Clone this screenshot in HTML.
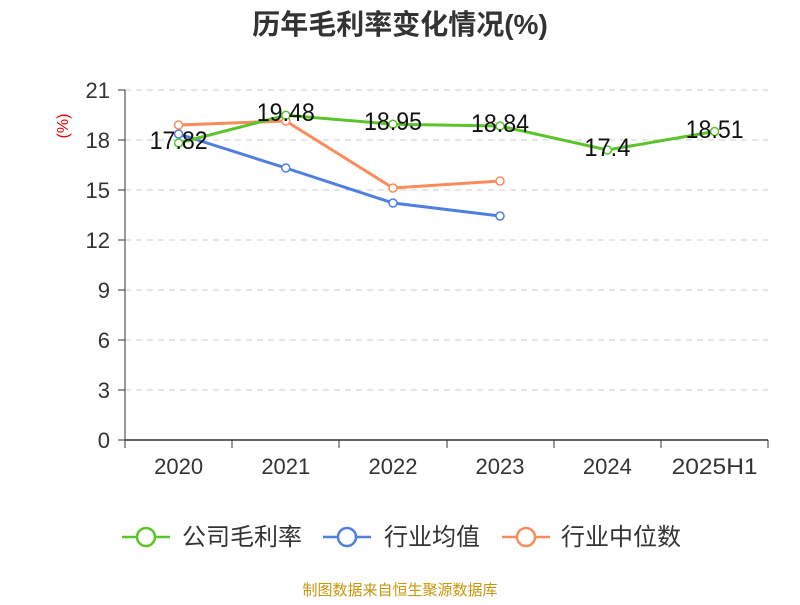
<!DOCTYPE html>
<html><head><meta charset="utf-8"><style>body{margin:0;background:#fff}</style></head><body>
<svg width="800" height="600" xmlns="http://www.w3.org/2000/svg" font-family="Liberation Sans, Noto Sans CJK SC, sans-serif">
<text x="400" y="34" text-anchor="middle" font-size="28" font-weight="bold" fill="#333">历年毛利率变化情况(%)</text>
<text x="68" y="126" text-anchor="middle" font-size="16" fill="#e00" transform="rotate(-90 68 126)">(%)</text>
<g stroke="#ccc" stroke-dasharray="6,5">
<line x1="125" x2="768" y1="90" y2="90"/><line x1="125" x2="768" y1="140" y2="140"/><line x1="125" x2="768" y1="190" y2="190"/><line x1="125" x2="768" y1="240" y2="240"/><line x1="125" x2="768" y1="290" y2="290"/><line x1="125" x2="768" y1="340" y2="340"/><line x1="125" x2="768" y1="390" y2="390"/>
</g>
<g stroke="#333"><line x1="125" x2="125" y1="90" y2="440"/><line x1="125" x2="768" y1="440" y2="440" stroke-width="1.5"/>
<line x1="118" x2="125" y1="90" y2="90"/><line x1="118" x2="125" y1="140" y2="140"/><line x1="118" x2="125" y1="190" y2="190"/><line x1="118" x2="125" y1="240" y2="240"/><line x1="118" x2="125" y1="290" y2="290"/><line x1="118" x2="125" y1="340" y2="340"/><line x1="118" x2="125" y1="390" y2="390"/><line x1="118" x2="125" y1="440" y2="440"/>
<line x1="125" x2="125" y1="440" y2="448"/><line x1="232" x2="232" y1="440" y2="448"/><line x1="339" x2="339" y1="440" y2="448"/><line x1="447" x2="447" y1="440" y2="448"/><line x1="554" x2="554" y1="440" y2="448"/><line x1="661" x2="661" y1="440" y2="448"/><line x1="768" x2="768" y1="440" y2="448"/></g>
<g font-size="22" fill="#333" text-anchor="end"><text x="110" y="98">21</text><text x="110" y="148">18</text><text x="110" y="198">15</text><text x="110" y="248">12</text><text x="110" y="298">9</text><text x="110" y="348">6</text><text x="110" y="398">3</text><text x="110" y="448">0</text></g>
<g font-size="22" fill="#333" text-anchor="middle"><text x="178.6" y="474">2020</text><text x="285.8" y="474">2021</text><text x="393" y="474">2022</text><text x="500" y="474">2023</text><text x="607.4" y="474">2024</text><text x="714.6" y="474" textLength="86" lengthAdjust="spacingAndGlyphs">2025H1</text></g>
<polyline fill="none" stroke="#4f7fdf" stroke-width="3" points="178.6,134 285.8,168 393,203 500,216"/>
<polyline fill="none" stroke="#f98c5a" stroke-width="3" points="178.6,125 285.8,121 393,188 500,181"/>
<polyline fill="none" stroke="#5bc42a" stroke-width="3" points="178.6,143 285.8,115.3 393,124.2 500,126 607.4,150 714.6,131.5"/>
<g fill="#fff" stroke-width="1.5">
<g stroke="#4f7fdf"><circle cx="178.6" cy="134" r="4"/><circle cx="285.8" cy="168" r="4"/><circle cx="393" cy="203" r="4"/><circle cx="500" cy="216" r="4"/></g>
<g stroke="#f98c5a"><circle cx="178.6" cy="125" r="4"/><circle cx="285.8" cy="121" r="4"/><circle cx="393" cy="188" r="4"/><circle cx="500" cy="181" r="4"/></g>
<g stroke="#5bc42a"><circle cx="178.6" cy="143" r="4"/><circle cx="285.8" cy="115.3" r="4"/><circle cx="393" cy="124.2" r="4"/><circle cx="500" cy="126" r="4"/><circle cx="607.4" cy="150" r="4"/><circle cx="714.6" cy="131.5" r="4"/></g>
</g>
<g font-size="25" fill="#111" text-anchor="middle"><text x="178.6" y="149" textLength="58" lengthAdjust="spacingAndGlyphs">17.82</text><text x="285.8" y="121" textLength="58" lengthAdjust="spacingAndGlyphs">19.48</text><text x="393" y="130" textLength="58" lengthAdjust="spacingAndGlyphs">18.95</text><text x="500" y="132" textLength="58" lengthAdjust="spacingAndGlyphs">18.84</text><text x="607.4" y="156" textLength="46" lengthAdjust="spacingAndGlyphs">17.4</text><text x="714.6" y="138" textLength="58" lengthAdjust="spacingAndGlyphs">18.51</text></g>
<g stroke-width="2.5" fill="#fff">
<line x1="122" x2="170" y1="537" y2="537" stroke="#5bc42a"/><circle cx="146" cy="537" r="9" stroke="#5bc42a"/>
<line x1="323" x2="371" y1="537" y2="537" stroke="#4f7fdf"/><circle cx="347" cy="537" r="9" stroke="#4f7fdf"/>
<line x1="502" x2="550" y1="537" y2="537" stroke="#f98c5a"/><circle cx="526" cy="537" r="9" stroke="#f98c5a"/>
</g>
<g font-size="24" fill="#333"><text x="182" y="545">公司毛利率</text><text x="384" y="545">行业均值</text><text x="561" y="545">行业中位数</text></g>
<text x="400" y="595" text-anchor="middle" font-size="15" fill="#c8960a">制图数据来自恒生聚源数据库</text>
</svg>
</body></html>
